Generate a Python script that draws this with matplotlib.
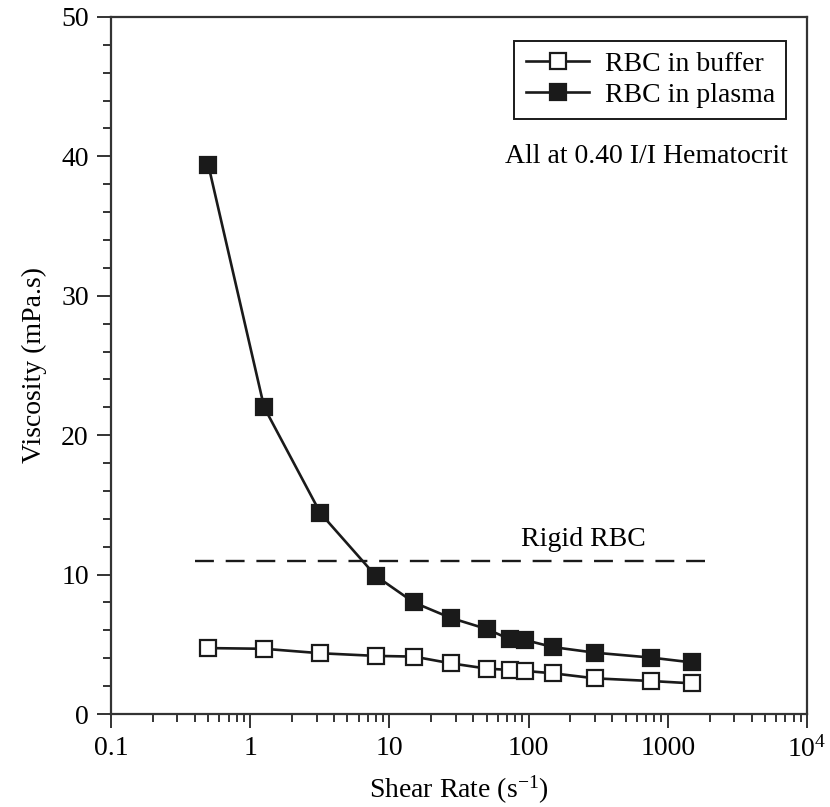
import numpy as np
import matplotlib
matplotlib.use('Agg')
import matplotlib.pyplot as plt
from matplotlib import rcParams
from matplotlib.ticker import LogLocator, FixedLocator, MultipleLocator, NullFormatter

rcParams['font.family'] = 'Liberation Serif'
rcParams['mathtext.fontset'] = 'custom'
rcParams['mathtext.rm'] = 'Liberation Serif'
rcParams['mathtext.it'] = 'Liberation Serif:italic'

# shear rates (1/s) and viscosities (mPa.s)
shear_plasma = [0.5, 1.26, 3.2, 8.0, 15, 27.5, 50, 73, 95, 150, 300, 755, 1500]
visc_plasma = [39.4, 22.0, 14.4, 9.9, 8.0, 6.9, 6.1, 5.37, 5.3, 4.8, 4.4, 4.05, 3.7]

shear_buffer = [0.5, 1.26, 3.2, 8.0, 15, 27.5, 50, 73, 95, 150, 300, 755, 1500]
visc_buffer = [4.73, 4.68, 4.36, 4.17, 4.12, 3.64, 3.26, 3.16, 3.09, 2.92, 2.56, 2.37, 2.2]

rigid_x = [0.4, 2000]
rigid_y = [11.0, 11.0]

xtick_vals = [0.1, 1, 10, 100, 1000, 10000]
xtick_labels = ['0.1', '1', '10', '100', '1000', '10$^4$']

fig = plt.figure(figsize=(8.3, 8.07), dpi=100)
ax = fig.add_axes([0.1337, 0.1152, 0.8386, 0.8638])

ax.plot(shear_buffer, visc_buffer, 's-', color='#1a1a1a', lw=1.9,
        markersize=11, markerfacecolor='white', markeredgecolor='#1a1a1a',
        markeredgewidth=1.6, label='RBC in buffer')
ax.plot(shear_plasma, visc_plasma, 's-', color='#1a1a1a', lw=1.9,
        markersize=11, markerfacecolor='#1a1a1a', markeredgecolor='#1a1a1a',
        markeredgewidth=1.6, label='RBC in plasma')
ax.plot(rigid_x, rigid_y, color='#1a1a1a', lw=1.7, dashes=(8, 5))
ax.text(246, 12.55, 'Rigid RBC', fontsize=20, ha='center', va='center')
ax.text(0.972, 0.80, 'All at 0.40 I/I Hematocrit', fontsize=20,
        ha='right', va='center', transform=ax.transAxes)

ax.set_xscale('log')
ax.set_xlim(0.1, 10000)
ax.set_ylim(0, 50)
ax.xaxis.set_major_locator(FixedLocator(xtick_vals))
ax.set_xticklabels(xtick_labels)
ax.xaxis.set_minor_locator(LogLocator(base=10, subs=np.arange(2, 10)))
ax.xaxis.set_minor_formatter(NullFormatter())
ax.yaxis.set_major_locator(MultipleLocator(10))
ax.yaxis.set_minor_locator(MultipleLocator(2))

ax.tick_params(which='major', direction='out', length=10, width=1.4,
               labelsize=20, color='#333333', pad=6)
ax.tick_params(which='minor', direction='out', length=6, width=1.4, color='#333333')
for sp in ax.spines.values():
    sp.set_linewidth(1.6)
    sp.set_color('#333333')

ax.set_xlabel('Shear Rate (s$^{-1}$)', fontsize=20, labelpad=8)
ax.set_ylabel('Viscosity (mPa.s)', fontsize=20, labelpad=10)

leg = ax.legend(loc='upper right', bbox_to_anchor=(0.970, 0.966), fontsize=20,
                fancybox=False, edgecolor='#1a1a1a', framealpha=1,
                handlelength=2.3, borderpad=0.4, labelspacing=0.2,
                handletextpad=0.55, borderaxespad=0)
leg.get_frame().set_linewidth(1.4)

fig.savefig('out.png', dpi=100)
